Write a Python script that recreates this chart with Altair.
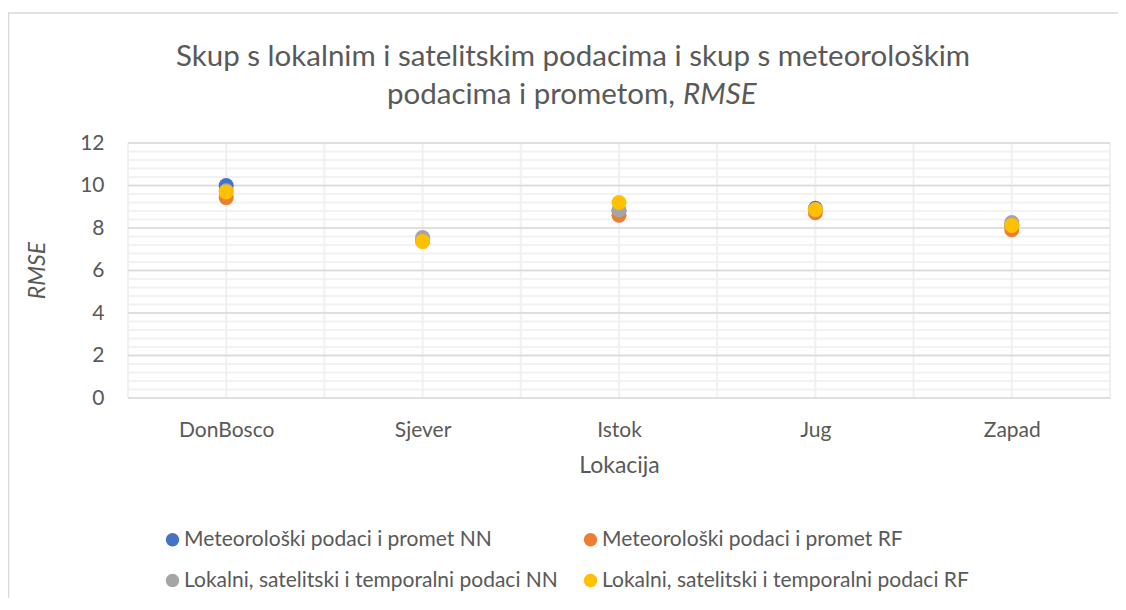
import altair as alt
import pandas as pd

locations = ["DonBosco", "Sjever", "Istok", "Jug", "Zapad"]
series_names = [
    "Meteorološki podaci i promet NN",
    "Meteorološki podaci i promet RF",
    "Lokalni, satelitski i temporalni podaci NN",
    "Lokalni, satelitski i temporalni podaci RF",
]
meteo_nn = [10.0, 7.42, 8.8, 8.93, 8.1]
meteo_rf = [9.43, 7.4, 8.6, 8.72, 7.92]
local_nn = [9.75, 7.55, 8.85, 8.86, 8.26]
local_rf = [9.7, 7.36, 9.2, 8.87, 8.12]
colors = ["#4472C4", "#ED7D31", "#A5A5A5", "#FFC000"]

y_major = [0, 2, 4, 6, 8, 10, 12]
y_minor = [round(0.4 * i, 1) for i in range(31)]
x_grid = [0.5 + 0.5 * i for i in range(11)]

rows = []
for k, (name, vals) in enumerate(zip(series_names, [meteo_nn, meteo_rf, local_nn, local_rf])):
    for i, (loc, v) in enumerate(zip(locations, vals)):
        rows.append({"series": name, "pos": i + 1, "loc": loc, "value": v, "order": k})
df = pd.DataFrame(rows)

# legend is laid out column by column: reorder so rows read as in the reference
legend_domain = [series_names[0], series_names[2], series_names[1], series_names[3]]
legend_range = [colors[0], colors[2], colors[1], colors[3]]

FONT = "Lato"
TXT = "#595959"

label_expr = "[" + ",".join("'" + l + "'" for l in locations) + "][datum.value - 1]"

points = alt.Chart(df).mark_circle(size=225, opacity=1).encode(
    x=alt.X("pos:Q", scale=alt.Scale(domain=[0.5, 5.5], nice=False, zero=False),
            axis=alt.Axis(values=[1, 2, 3, 4, 5], labelExpr=label_expr, grid=False,
                          domain=False, ticks=False, labelPadding=21, labelFontSize=21,
                          labelColor=TXT, labelFont=FONT, title="Lokacija",
                          titleFontSize=23, titleFont=FONT, titleColor=TXT,
                          titleFontWeight="normal", titleBaseline="top", titleY=56)),
    y=alt.Y("value:Q", scale=alt.Scale(domain=[0, 12], nice=False),
            axis=alt.Axis(values=y_major, grid=False, domain=False, ticks=False,
                          labelPadding=24, labelFontSize=21, labelColor=TXT, labelFont=FONT,
                          title="RMSE", titleFontSize=23, titleFont=FONT, titleColor=TXT,
                          titleFontWeight="normal", titleFontStyle="italic",
                          titleX=-91, titleY=127, titleBaseline="middle")),
    color=alt.Color("series:N", scale=alt.Scale(domain=legend_domain, range=legend_range),
                    sort=legend_domain,
                    legend=alt.Legend(title=None, orient="none", legendX=34, legendY=386,
                                      columns=2, symbolType="circle", symbolSize=180,
                                      labelFontSize=21, labelFont=FONT, labelColor=TXT,
                                      labelLimit=600, rowPadding=19, columnPadding=22,
                                      labelOffset=1, symbolStrokeWidth=0)),
    order=alt.Order("order:Q"),
)

minor = alt.Chart(pd.DataFrame({"y": y_minor})).mark_rule(color="#f2f2f2", strokeWidth=2).encode(y="y:Q")
vert = alt.Chart(pd.DataFrame({"x": x_grid})).mark_rule(color="#f0f0f0", strokeWidth=2).encode(x="x:Q")
major = alt.Chart(pd.DataFrame({"y": y_major})).mark_rule(color="#d9d9d9", strokeWidth=1.5).encode(y="y:Q")

title1 = alt.Chart(pd.DataFrame({"t": ["Skup s lokalnim i satelitskim podacima i skup s meteorološkim"]})).mark_text(
    font=FONT, fontSize=29.5, color=TXT, align="center", baseline="middle"
).encode(text="t:N", x=alt.value(445), y=alt.value(-86))
title2a = alt.Chart(pd.DataFrame({"t": ["podacima i prometom,"]})).mark_text(
    font=FONT, fontSize=29.5, color=TXT, align="right", baseline="middle"
).encode(text="t:N", x=alt.value(547), y=alt.value(-48))
title2b = alt.Chart(pd.DataFrame({"t": ["RMSE"]})).mark_text(
    font=FONT, fontSize=29.5, color=TXT, align="left", baseline="middle", fontStyle="italic"
).encode(text="t:N", x=alt.value(555), y=alt.value(-48))

border = alt.Chart(pd.DataFrame({"a": [0]})).mark_rect(
    fill=None, stroke="#d9d9d9", strokeWidth=1.5
).encode(x=alt.value(-119.5), y=alt.value(-130), x2=alt.value(1010), y2=alt.value(500))

chart = alt.layer(minor, vert, major, points, title1, title2a, title2b, border).properties(
    width=982, height=255,
    autosize=alt.AutoSizeParams(type="none"),
    padding={"left": 120, "top": 135, "right": 8, "bottom": 200},
).configure_view(stroke=None).configure(background="white")

chart.save("out.html", embed_options={"renderer": "svg", "actions": False})
